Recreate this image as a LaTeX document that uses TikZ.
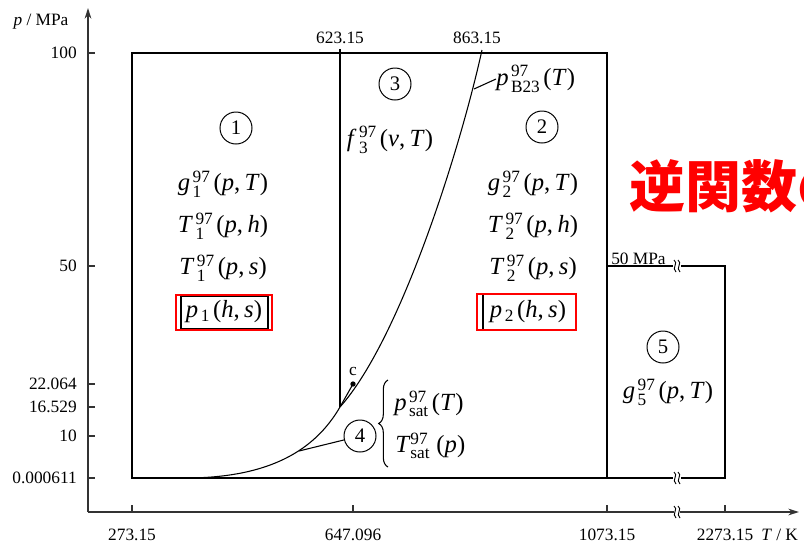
\documentclass[tikz,border=0pt]{standalone}
\usepackage{fontspec}
\usepackage{amsmath}
\setmainfont{Liberation Serif}
\newfontfamily\cjk{Noto Sans CJK JP}
\usetikzlibrary{arrows.meta,decorations.pathreplacing}
\newcommand\fnl[3]{\textit{#1}\kern0.1em$^{\text{97}}_{\text{#2}}$\kern0.12em(#3)}
\newcommand\ip[2]{\textit{#1},\kern0.18em\textit{#2}}
\begin{document}
\begin{tikzpicture}[x=0.75pt,y=-0.75pt,
  tick/.style={font=\fontsize{13}{15}\selectfont, inner sep=0pt},
  fnlab/.style={font=\fontsize{18.5}{22}\selectfont, inner sep=0pt},
  circ/.style={circle, draw, line width=0.75pt, minimum size=24pt, inner sep=0pt, font=\fontsize{15.5}{18}\selectfont},
  boxline/.style={line width=1.5pt},
  thinl/.style={line width=0.8pt},
  axis/.style={line width=1.1pt, draw=black!80},
  redbox/.style={draw=red, line width=1.6pt},
  brk/.pic={\draw[line width=0.7pt] (-3,-6) .. controls (2,-3) and (-6,2) .. (-1,6);
            \draw[line width=0.7pt] (1,-6) .. controls (6,-3) and (-2,2) .. (3,6);}
]
\useasboundingbox (0,0) rectangle (804,544);

% axes
\coordinate (O) at (88,512);
\coordinate (Ytop) at (88,8);
\coordinate (Xbrk1) at (674,512);
\coordinate (Xbrk2) at (680,512);
\coordinate (Xend) at (799,512);
\draw[axis,-{Stealth[length=8pt,width=5pt]}] (O) -- (Ytop);
\draw[axis] (O) -- (Xbrk1);
\draw[axis,-{Stealth[length=8pt,width=5pt]}] (Xbrk2) -- (Xend);
\pic at (677,512) {brk};

% ticks
\foreach \yy in {53,266,384,407,436,478} \draw[axis] (88,\yy) -- (95,\yy);
\foreach \xx in {132,353,607,725} \draw[axis] (\xx,512) -- (\xx,505);

\node[tick, anchor=east] (y100) at (77,53) {100};
\node[tick, anchor=east] (y50) at (77,266) {50};
\node[tick, anchor=east] (y22) at (77,384) {22.064};
\node[tick, anchor=east] (y16) at (77,407) {16.529};
\node[tick, anchor=east] (y10) at (77,436) {10};
\node[tick, anchor=east] (y0) at (77,478) {0.000611};

\node[tick] (x273) at (132,535) {273.15};
\node[tick] (x647) at (353,535) {647.096};
\node[tick] (x1073) at (607,535) {1073.15};
\node[tick] (x2273) at (725,535) {2273.15};
\node[tick, anchor=west] (xlab) at (761,535) {\textit{T} / K};
\node[tick] (ylab) at (41,22) {\textit{p} / MPa};

% main box
\draw[boxline] (132,53) rectangle (607,478);
\draw[boxline] (340,49) -- (340,407);
\node[tick] (t623) at (340,38) {623.15};
\node[tick] (t863) at (477,38) {863.15};

% region 5
\draw[boxline] (607,266) -- (673,266);
\draw[boxline] (681,266) -- (725,266) -- (725,478) -- (681,478);
\draw[boxline] (607,478) -- (673,478);
\pic at (677,266) {brk};
\pic at (677,478) {brk};
\node[tick, anchor=base west] (mpa50) at (611,264) {50 MPa};

% curves
\coordinate (s0) at (185,478);
\coordinate (s1) at (340,407);
\coordinate (b1) at (482,50);
\node[circle, fill, inner sep=0pt, minimum size=4pt] (cdot) at (353,384) {};
\draw[thinl] (s0) .. controls (270,478) and (315,450) .. (s1) -- (cdot.center);
\draw[thinl] (s1) .. controls (400,340) and (460,150) .. (b1);
\node[tick] (clab) at (353,371) {c};

% region 1
\node[circ] (n1) at (236,128) {1};
\node[fnlab] (g1) at (223,184) {\fnl{g}{1}{\ip{p}{T}}};
\node[fnlab] (T1h) at (223,226) {\fnl{T}{1}{\ip{p}{h}}};
\node[fnlab] (T1s) at (223,268) {\fnl{T}{1}{\ip{p}{s}}};
\node[fnlab] (p1) at (224,312) {\textit{p}\kern0.1em$_{\text{1}}$\kern0.12em(\ip{h}{s})};
\draw[line width=0.8pt] (181,296) rectangle (268,329);
\draw[redbox] (176,295) rectangle (272,330);

% region 2
\node[circ] (n2) at (542,127) {2};
\node[fnlab] (g2) at (533,184) {\fnl{g}{2}{\ip{p}{T}}};
\node[fnlab] (T2h) at (533,226) {\fnl{T}{2}{\ip{p}{h}}};
\node[fnlab] (T2s) at (533,268) {\fnl{T}{2}{\ip{p}{s}}};
\node[fnlab] (p2) at (528,312) {\textit{p}\kern0.1em$_{\text{2}}$\kern0.12em(\ip{h}{s})};
\draw[line width=0.8pt] (483,295) -- (483,329);
\draw[redbox] (477,294) rectangle (576,330);

% region 3
\node[circ] (n3) at (395,84) {3};
\node[fnlab] (f3) at (390,140) {\fnl{f}{3}{\ip{v}{T}}};
\node[fnlab, anchor=west] (pB23) at (496,79) {\fnl{p}{B23}{\textit{T}}};
\coordinate (l23) at (474,89);
\draw[thinl] (l23) -- (pB23.west);

% region 4
\node[circ] (n4) at (360,436) {4};
\coordinate (s4) at (299,451);
\draw[thinl] (n4) -- (s4);
\coordinate (brA) at (388,467);
\coordinate (brB) at (388,380);
\draw[thinl, decorate, decoration={brace, amplitude=7pt}] (brA) -- (brB);
\node[fnlab, anchor=west] (psat) at (394,404) {\fnl{p}{sat}{\textit{T}}};
\node[fnlab, anchor=west] (Tsat) at (395,446) {\textit{T}$^{\text{97}}_{\text{sat}}$\kern0.25em(\textit{p})};

% region 5
\node[circ] (n5) at (663,347) {5};
\node[fnlab] (g5) at (668,392) {\fnl{g}{5}{\ip{p}{T}}};

% red text (cut off at the right edge, as in the reference)
\node[anchor=west, inner sep=0pt, text=red, font=\cjk\bfseries\fontsize{42}{50}\selectfont] (inv) at (629,186) {逆関数の};
\end{tikzpicture}
\end{document}
